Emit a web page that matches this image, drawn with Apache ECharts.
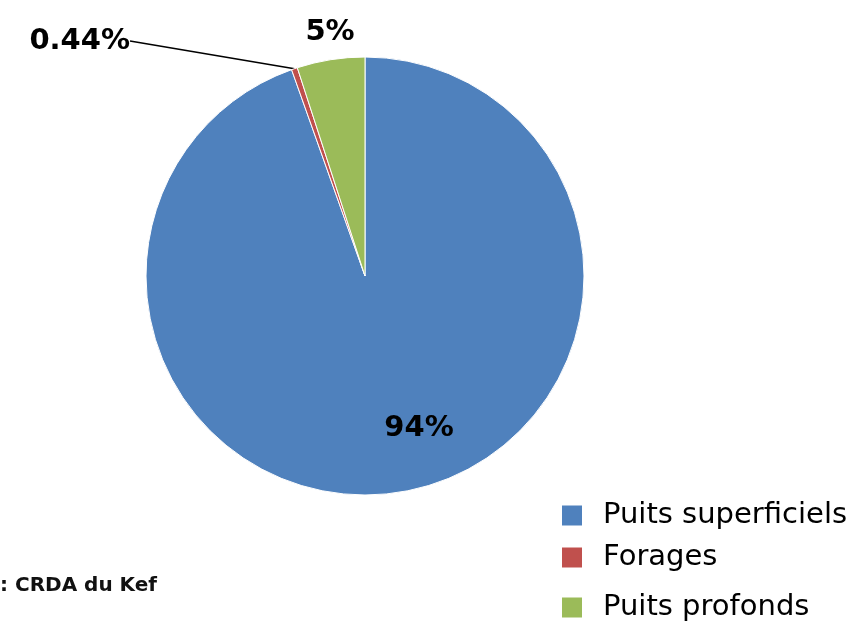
<!DOCTYPE html>
<html>
<head>
<meta charset="utf-8">
<script src="https://cdn.jsdelivr.net/npm/echarts@6/dist/echarts.min.js"></script>
<style>
  html, body { margin: 0; padding: 0; background: #fff; }
  #chart { width: 863px; height: 621px; }
</style>
</head>
<body>
<div id="chart"></div>
<script>
// categories, values and shown labels
var categories = ['Puits superficiels', 'Forages', 'Puits profonds'];
var values = [94.56, 0.44, 5];
var labelTexts = ['94%', '0.44%', '5%'];
var colors = ['#4F81BD', '#C0504D', '#9BBB59'];
var sourceText = ': CRDA du Kef';

var chart = echarts.init(document.getElementById('chart'));

var pieData = categories.map(function (name, i) {
  return {
    name: name,
    value: values[i],
    itemStyle: { color: colors[i] }
  }
});

// one legend per row, rows are not evenly spaced in the original
var legendTops = [496, 538, 588];
var legends = categories.map(function (name, i) {
  return {
    data: [name],
    left: 555,
    top: legendTops[i],
    icon: 'rect',
    itemWidth: 22,
    itemHeight: 22,
    itemGap: 0,
    selectedMode: false,
    textStyle: {
      fontFamily: 'DejaVu Sans',
      fontSize: 29,
      color: '#000',
      padding: [0, 0, 0, 15]
    }
  }
});

var option = {
  backgroundColor: '#fff',
  animation: false,
  legend: legends,
  graphic: [{
    type: 'text',
    left: 0,
    top: 576,
    style: {
      text: sourceText,
      font: 'bold 20px "DejaVu Sans"',
      fill: '#111'
    }
  }],
  series: [{
    type: 'pie',
    center: [365, 276],
    radius: 219,
    startAngle: 90,
    clockwise: true,
    avoidLabelOverlap: false,
    itemStyle: { borderColor: '#fff', borderWidth: 1 },
    label: {
      show: true,
      position: 'outside',
      fontFamily: 'DejaVu Sans',
      fontWeight: 'bold',
      fontSize: 29,
      color: '#000',
      formatter: function (p) { return labelTexts[p.dataIndex]; }
    },
    labelLine: {
      show: true,
      length: 0,
      length2: 0,
      lineStyle: { color: '#000', width: 1.5 }
    },
    labelLayout: function (p) {
      if (p.dataIndex === 0) {
        return { x: 419, y: 428, align: 'center', verticalAlign: 'middle' };
      }
      if (p.dataIndex === 1) {
        return { x: 130, y: 41, align: 'right', verticalAlign: 'middle' };
      }
      return { x: 330, y: 32, align: 'center', verticalAlign: 'middle' };
    },
    data: pieData.map(function (d, i) {
      if (i === 0) {
        d.label = { position: 'inside' };
        d.labelLine = { show: false };
      } else if (i === 2) {
        d.labelLine = { show: false };
      }
      return d;
    })
  }]
};

chart.setOption(option);
</script>
</body>
</html>
